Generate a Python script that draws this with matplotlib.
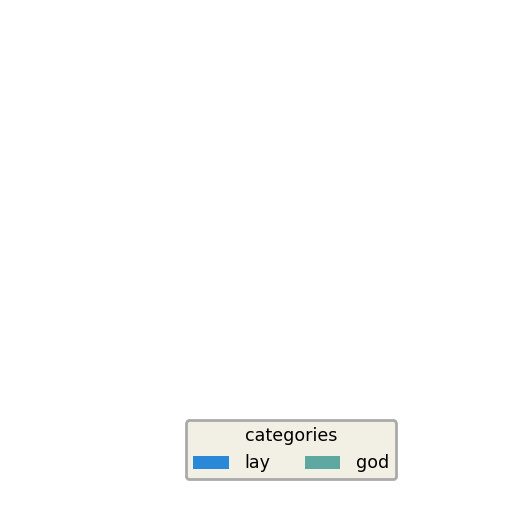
import matplotlib
matplotlib.use("Agg")
import matplotlib.pyplot as plt
from matplotlib.patches import Patch

categories = ["lay", "god"]
colors = ["#2a88d8", "#5fa8a2"]

fig = plt.figure(figsize=(5.12, 5.12), dpi=100)
ax = fig.add_axes([0, 0, 1, 1])
ax.axis("off")

handles = [Patch(facecolor=c, edgecolor="none") for c in colors]
leg = fig.legend(handles, categories, title="categories", ncol=2,
                 loc="lower left", bbox_to_anchor=(0.363, 0.064),
                 borderaxespad=0, fontsize=12.6, title_fontsize=12.6,
                 frameon=True, fancybox=True, handlelength=2.05,
                 handleheight=0.75, columnspacing=1.95, handletextpad=0.9)
frame = leg.get_frame()
frame.set_facecolor("#f2efe4")
frame.set_edgecolor("#aaaaaa")
frame.set_linewidth(2)
frame.set_alpha(1)

fig.savefig("out.png", dpi=100)
